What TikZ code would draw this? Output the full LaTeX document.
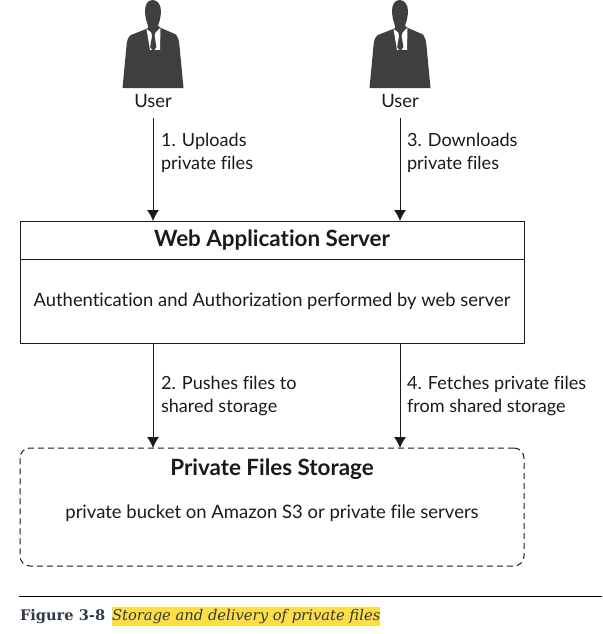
\documentclass[tikz,border=0pt]{standalone}
\usepackage{fontspec}
\setmainfont[Ligatures=NoCommon]{Lato}
\newfontfamily\capfont{DejaVu Serif}
\usetikzlibrary{arrows.meta}
\definecolor{ink}{HTML}{1A1A1A}
\definecolor{suit}{HTML}{3F3F41}
\definecolor{capink}{HTML}{2E3A46}
\definecolor{hilite}{HTML}{FFDD44}
\tikzset{
  every node/.style={text=ink,inner sep=0pt,outer sep=0pt},
  boxpart/.style={draw=ink,line width=1pt,minimum width=504pt,anchor=north west},
  conn/.style={draw=ink,line width=1pt,-{Latex[length=11pt,width=12pt]}},
  note/.style={font=\fontsize{18.1}{23}\selectfont,align=left,anchor=west},
  lbl/.style={font=\fontsize{18.4}{22}\selectfont},
  ttl/.style={font=\fontsize{22.4}{23}\selectfont\bfseries},
  person/.pic={
    \fill[suit] (-0.3,0) .. controls (-5.5,0) and (-8,5) .. (-8,11)
      .. controls (-8,17) and (-6,23) .. (-5,26) -- (-5,28)
      -- (-7,29) -- (-22,35) .. controls (-25,37) and (-26,40) .. (-26.5,46)
      -- (-30.5,88) -- (30.5,88) -- (26.5,46)
      .. controls (26,40) and (25,37) .. (23,34.5) -- (8,28) -- (5,26)
      .. controls (6,23) and (8,17) .. (8,11)
      .. controls (8,5) and (4.5,0) .. (-0.3,0) -- cycle;
    \fill[white] (-6.5,29) -- (-1,33) -- (2,33) -- (7.5,27.5) -- (7,50) -- (-3,50) -- cycle;
    \fill[suit] (-2,31) -- (2.6,31) -- (1.6,36) -- (3.4,47) -- (0.3,51.5) -- (-2.8,47) -- (-1,36) -- cycle;
  }
}
\begin{document}
\begin{tikzpicture}[x=1pt,y=-1pt]
\useasboundingbox (0,0) rectangle (602,634);
\pic at (153,0) {person};
\pic at (400,0) {person};
\node[lbl,anchor=center,minimum height=34pt] (userA) at (153,101) {User};
\node[lbl,anchor=center,minimum height=34pt] (userB) at (400,101) {User};
\node[boxpart,ttl,minimum height=38pt] (webhead) at (20,221) {Web Application Server};
\node[boxpart,minimum height=84pt] (webbody) at (webhead.south west) {};
\node[lbl] (webtext) at (272,301) {Authentication and Authorization performed by web server};
\node[boxpart,dashed,dash pattern=on 6pt off 4pt,rounded corners=10pt,minimum height=118pt] (store) at (20,448) {};
\node[ttl] (storetitle) at (272,469.5) {Private Files Storage};
\node[lbl,font=\fontsize{18.5}{22}\selectfont] (storetext) at (272,513) {private bucket on Amazon S3 or private file servers};
\path[conn] (userA.south) -- (webhead.north -| userA.south);
\path[conn] (userB.south) -- (webhead.north -| userB.south);
\path[conn] (webbody.south -| userA.south) -- (store.north -| userA.south);
\path[conn] (webbody.south -| userB.south) -- (store.north -| userB.south);
\node[note] (n1) at (161,152.5) {1. Uploads\\private files};
\node[note] (n3) at (407,152.5) {3. Downloads\\private files};
\node[note] (n2) at (161,395.5) {2. Pushes files to\\shared storage};
\node[note] (n4) at (407,395.5) {4. Fetches private files\\from shared storage};
\coordinate (ruleL) at (19,596);
\coordinate (ruleR) at (602,596);
\draw[black,line width=1pt] (ruleL) -- (ruleR);
\node[anchor=west,text=capink,font=\capfont\bfseries\fontsize{14.6}{16}\selectfont] (figno) at (20,617) {Figure 3-8};
\node[anchor=west,fill=hilite,text=capink,font=\capfont\itshape\fontsize{14.75}{16}\selectfont,minimum height=19pt] (figcap) at (112,616.5) {Storage and delivery of private files};
\end{tikzpicture}
\end{document}
